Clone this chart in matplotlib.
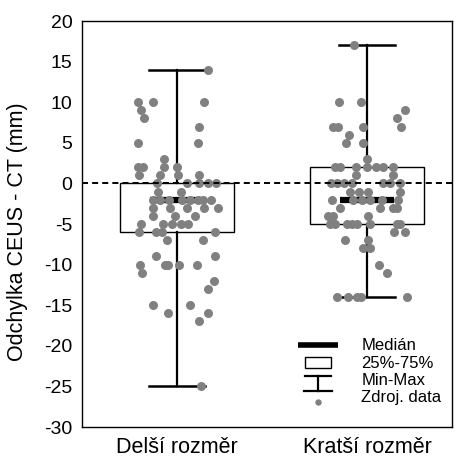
import matplotlib
matplotlib.use('Agg')
import matplotlib.pyplot as plt
from matplotlib.lines import Line2D
from matplotlib.patches import Rectangle
from matplotlib.legend_handler import HandlerBase

plt.rcParams['font.family'] = ['Liberation Sans', 'DejaVu Sans']

# ---------------- data ----------------
categories = ['Delší rozměr', 'Kratší rozměr']
y_ticks = [20, 15, 10, 5, 0, -5, -10, -15, -20, -25, -30]

long_values = [14,
               10, 10, 10, 9, 8, 7, 5, 5, 3,
               2, 2, 2, 2, 1, 1, 1, 1,
               0, 0, 0, 0, 0, -1, -1,
               -2, -2, -2, -2, -2, -2, -2, -2,
               -3, -3, -3, -3, -3, -4, -4, -4,
               -5, -5, -5, -5, -5, -6, -6, -6, -6,
               -7, -7, -9, -9, -10, -10, -10, -10, -10,
               -11, -12, -13, -15, -15, -16, -16, -17, -25]
long_jitter = [0.163,
               -0.205, -0.126, 0.142, -0.189, -0.174, 0.116, -0.205, 0.111, -0.068,
               -0.205, -0.179, -0.068, 0.0, -0.2, -0.089, 0.005, 0.116,
               -0.105, 0.053, 0.116, 0.163, 0.205, -0.1, 0.021,
               -0.126, -0.089, -0.042, 0.026, 0.068, 0.111, 0.137, 0.179,
               -0.126, -0.037, 0.053, 0.142, 0.216, -0.126, -0.011, 0.095,
               -0.189, -0.074, -0.026, 0.021, 0.058, -0.2, -0.111, -0.079, 0.2,
               -0.053, 0.137, -0.111, 0.2, -0.195, -0.063, -0.047, 0.011, 0.105,
               -0.184, 0.195, 0.163, -0.126, 0.068, -0.047, 0.163, 0.116, 0.126]

short_values = [17,
                10, 10, 9, 8, 7, 7, 7, 7, 6, 5, 5, 3,
                2, 2, 2, 2, 2, 2, 2, 1, 1,
                0, 0, 0, 0, 0, 0, 0,
                -1, -1, -1, -1,
                -2, -2, -2, -2, -2, -2,
                -3, -3, -3, -3, -4, -4, -4,
                -5, -5, -5, -5, -5, -5, -5, -5,
                -6, -6, -7, -7, -8, -8, -10, -11,
                -14, -14, -14, -14, -14]
short_jitter = [-0.068,
                -0.147, -0.032, 0.2, 0.158, -0.179, -0.153, -0.021, 0.179, -0.095, -0.111, -0.021, 0.0,
                -0.168, -0.142, -0.058, 0.0, 0.047, 0.084, 0.137, -0.058, 0.137,
                -0.189, -0.158, -0.121, -0.079, 0.084, 0.121, 0.174,
                -0.089, -0.042, 0.005, 0.174,
                -0.184, -0.074, -0.026, 0.016, 0.079, 0.163,
                -0.142, 0.068, 0.137, 0.158, -0.205, -0.179, 0.005,
                -0.195, -0.168, -0.105, -0.079, -0.053, 0.016, 0.158, 0.174,
                0.142, 0.2, -0.116, 0.005, -0.021, 0.016, 0.063, 0.105,
                -0.158, -0.1, -0.053, -0.032, 0.211]

box_min = [-25, -14]
box_q1 = [-6, -5]
box_median = [-2, -2]
box_q3 = [0, 2]
box_max = [14, 17]

legend_labels = ['Medián', '25%-75%', 'Min-Max', 'Zdroj. data']

# ---------------- figure ----------------
fig = plt.figure(figsize=(4.59, 4.57), dpi=100)
ax = fig.add_axes([82 / 459, 30 / 457, 370 / 459, 406 / 457])

positions = [1, 2]
point_color = '#808080'

stats = []
for i in range(len(categories)):
    stats.append(dict(med=box_median[i], q1=box_q1[i], q3=box_q3[i],
                      whislo=box_min[i], whishi=box_max[i], fliers=[]))

ax.bxp(stats, positions=positions, widths=0.6, capwidths=0.295,
       showfliers=False, patch_artist=True,
       boxprops=dict(facecolor='white', edgecolor='black', linewidth=1.0),
       whiskerprops=dict(color='black', linewidth=1.6),
       capprops=dict(color='black', linewidth=1.8),
       medianprops=dict(linewidth=0),
       zorder=1)

ax.hlines(box_median, [p - 0.14 for p in positions], [p + 0.14 for p in positions],
          colors='black', linewidth=4.5, zorder=2)

ax.scatter([positions[0] + j for j in long_jitter], long_values, s=42,
           color=point_color, linewidths=0, zorder=3)
ax.scatter([positions[1] + j for j in short_jitter], short_values, s=42,
           color=point_color, linewidths=0, zorder=3)

ax.axhline(0, color='black', linewidth=1.4, dashes=(3.1, 2.1), zorder=4)

ax.set_xlim(0.5, 2.447)
ax.set_ylim(-30, 20)
ax.set_xticks(positions)
ax.set_xticklabels(categories, fontsize=15.5)
ax.set_yticks(y_ticks)
ax.set_yticklabels([str(t) for t in y_ticks], fontsize=14)
ax.tick_params(axis='both', length=0)
ax.tick_params(axis='y', pad=7)
ax.tick_params(axis='x', pad=7)
for sp in ax.spines.values():
    sp.set_linewidth(1.0)
    sp.set_color('black')

ax.set_ylabel('Odchylka CEUS - CT (mm)', fontsize=15.5)
ax.yaxis.set_label_coords(-0.145, 0.48)


# ---------------- legend ----------------
class MedianHandler(HandlerBase):
    def create_artists(self, legend, orig, xd, yd, w, h, fs, trans):
        return [Line2D([-xd, -xd + w], [h / 2 - yd] * 2, lw=4, color='black',
                       transform=trans, solid_capstyle='butt')]


class BoxHandler(HandlerBase):
    def create_artists(self, legend, orig, xd, yd, w, h, fs, trans):
        return [Rectangle((-xd + 0.18 * w, -yd - 0.05 * h), 0.64 * w, 1.0 * h,
                          facecolor='white', edgecolor='black', lw=1.0,
                          transform=trans)]


class MinMaxHandler(HandlerBase):
    def create_artists(self, legend, orig, xd, yd, w, h, fs, trans):
        x0 = -xd + 0.18 * w
        x1 = -xd + 0.82 * w
        xm = -xd + 0.5 * w
        top = -yd + 0.8 * h
        bot = -yd - 0.5 * h
        return [Line2D([x0, x1], [top, top], lw=1.6, color='black', transform=trans),
                Line2D([xm, xm], [top, bot], lw=1.6, color='black', transform=trans),
                Line2D([x0 - 1, x1 + 1], [bot, bot], lw=1.6, color='black', transform=trans)]


class PointHandler(HandlerBase):
    def create_artists(self, legend, orig, xd, yd, w, h, fs, trans):
        return [Line2D([-xd + 0.5 * w], [-yd + 0.05 * h], marker='o', ms=4.6,
                       color=point_color, mec='none', transform=trans)]


class H:
    pass


handles = [H(), H(), H(), H()]
hmap = {handles[0]: MedianHandler(), handles[1]: BoxHandler(),
        handles[2]: MinMaxHandler(), handles[3]: PointHandler()}
leg = ax.legend(handles, legend_labels, handler_map=hmap, frameon=False,
                loc='upper left', bbox_to_anchor=(0.584, 0.218),
                borderpad=0, borderaxespad=0, fontsize=12,
                handlelength=2.4, handleheight=0.7, handletextpad=1.4,
                labelspacing=0.14)

fig.savefig('out.png', dpi=100)
